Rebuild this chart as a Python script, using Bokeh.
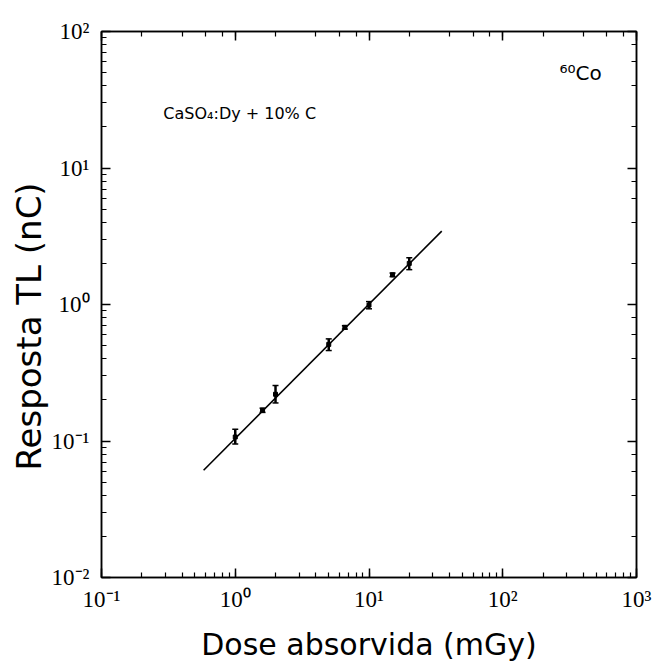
from bokeh.plotting import figure
from bokeh.models import LogAxis, Label, LogTicker, Title
from bokeh.embed import file_html
from bokeh.resources import INLINE

# Measured TL response (nC) versus absorbed dose (mGy)
dose = [1.0, 1.6, 2.0, 5.0, 6.6, 10.0, 15.0, 20.0]
response = [0.107, 0.168, 0.22, 0.51, 0.68, 0.99, 1.65, 2.0]
err_low = [0.095, 0.162, 0.19, 0.46, 0.66, 0.93, 1.6, 1.8]
err_high = [0.122, 0.174, 0.255, 0.56, 0.70, 1.05, 1.7, 2.2]

# Linear fit (log-log) drawn between its two end points
fit_dose = [0.58, 35.0]
fit_resp = [0.061, 3.45]

x_ticks = [0.1, 1, 10, 100, 1000]
x_tick_labels = ["10⁻¹", "10⁰", "10¹", "10²", "10³"]
y_ticks = [0.01, 0.1, 1, 10, 100]
y_tick_labels = ["10⁻²", "10⁻¹", "10⁰", "10¹", "10²"]

p = figure(
    x_axis_type="log", y_axis_type="log",
    x_range=(0.1, 1000), y_range=(0.01, 100),
    frame_width=535, frame_height=546,
    min_border_left=101, min_border_right=30,
    min_border_top=31, min_border_bottom=94,
    output_backend="svg", toolbar_location=None,
    background_fill_color="white", border_fill_color="white",
)
p.xgrid.visible = False
p.ygrid.visible = False
p.outline_line_color = "black"
p.outline_line_width = 1.5

tick_font = "Liberation Serif"


def style_axis(ax):
    ax.axis_line_color = "black"
    ax.axis_line_width = 1.5
    ax.major_tick_in = 9
    ax.major_tick_out = 0
    ax.minor_tick_in = 5
    ax.minor_tick_out = 0
    ax.major_tick_line_color = "black"
    ax.minor_tick_line_color = "black"
    ax.major_tick_line_width = 1.5
    ax.minor_tick_line_width = 1.2


xa = p.xaxis[0]
ya = p.yaxis[0]
style_axis(xa)
style_axis(ya)

xa.major_label_overrides = {v: t for v, t in zip(x_ticks, x_tick_labels)}
ya.major_label_overrides = {v: t for v, t in zip(y_ticks, y_tick_labels)}
for ax in (xa, ya):
    ax.major_label_text_font = tick_font
    ax.major_label_text_font_size = "23px"
    ax.major_label_text_color = "black"

xa.major_label_standoff = 9
ya.major_label_standoff = 12
xa.axis_label = "Dose absorvida (mGy)"
xa.axis_label_text_font = "DejaVu Sans"
xa.axis_label_text_font_style = "normal"
xa.axis_label_text_color = "black"
xa.axis_label_text_font_size = "30px"
xa.axis_label_standoff = 12

# Vertical axis title, starting a little above the bottom of the frame
p.add_layout(Title(text="Resposta TL (nC)", align="left", offset=107,
                   standoff=0, text_font="DejaVu Sans", text_font_size="34px",
                   text_font_style="normal", text_color="black"), "left")

# Unlabelled mirror axes on the top and right edges
for side in ("above", "right"):
    ax = LogAxis(ticker=LogTicker())
    style_axis(ax)
    ax.major_label_text_alpha = 0
    ax.major_label_text_font_size = "6px"
    ax.major_label_standoff = 0
    p.add_layout(ax, side)

# Fit line
p.line(fit_dose, fit_resp, line_color="black", line_width=1.6)

# Error bars with caps
p.segment(x0=dose, y0=err_low, x1=dose, y1=err_high,
          line_color="black", line_width=2.5)
p.scatter(dose, err_low, marker="dash", size=6, line_color="black", line_width=1.5)
p.scatter(dose, err_high, marker="dash", size=6, line_color="black", line_width=1.5)
p.scatter(dose, response, marker="square", size=4, fill_color="black", line_color="black")

p.add_layout(Label(x=0.29, y=25, text="CaSO₄:Dy + 10% C",
                   text_font="DejaVu Sans", text_font_size="16px",
                   text_baseline="middle", text_color="black"))
p.add_layout(Label(x=266, y=50, text="⁶⁰Co",
                   text_font="DejaVu Sans", text_font_size="20px",
                   text_baseline="middle", text_color="black"))

open("out.html", "w").write(file_html(p, INLINE))
